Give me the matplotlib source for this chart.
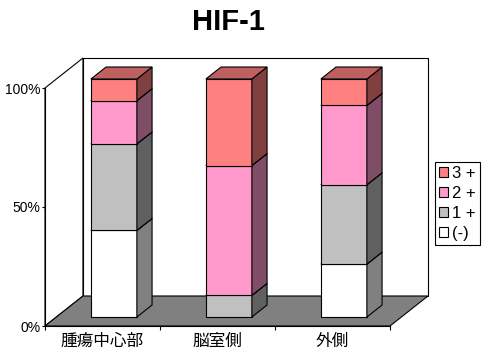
import numpy as np
import matplotlib
matplotlib.use("Agg")
import matplotlib.pyplot as plt
from matplotlib.patches import Polygon, Patch
from matplotlib.colors import to_rgb

# Case counts per region and staining grade
categories = ["腫瘍中心部", "脳室側", "外側"]
series_names = ["(-)", "1 +", "2 +", "3 +"]
neg = [4, 0, 2]
plus1 = [4, 1, 3]
plus2 = [2, 6, 3]
plus3 = [1, 4, 1]
front_colors = ["#FFFFFF", "#C0C0C0", "#FF99CC", "#FF8080"]
yticks = [0, 50, 100]
ytick_labels = ["0%", "50%", "100%"]
title = "HIF-1"

counts = np.array([neg, plus1, plus2, plus3], dtype=float)
percent = counts / counts.sum(axis=0) * 100

W, H = 494, 353
fig = plt.figure(figsize=(W / 100, H / 100), dpi=100)
ax = fig.add_axes([45 / W, (H - 326) / H, 345 / W, 238 / H])
ax.set_xlim(0, 3)
ax.set_ylim(0, 100)

# oblique depth vector (full depth of the box) in data units
ddx, ddy = 0.33, 12.6
bar_front, bar_depth, bar_width = 0.3, 0.4, 0.4
edge = dict(edgecolor="black", linewidth=0.8, clip_on=False)


def shade(color, f):
    r, g, b = to_rgb(color)
    return (r * f, g * f, b * f)


def poly(pts, fc, z):
    ax.add_patch(Polygon(pts, closed=True, facecolor=fc, zorder=z, **edge))


# back wall, left wall and floor
poly([(ddx, ddy), (3 + ddx, ddy), (3 + ddx, 100 + ddy), (ddx, 100 + ddy)], "white", 0.1)
poly([(0, 0), (0, 100), (ddx, 100 + ddy), (ddx, ddy)], "white", 0.2)
poly([(0, 0), (3, 0), (3 + ddx, ddy), (ddx, ddy)], "#808080", 0.3)

# stacked 3-D columns
ox, oy = bar_front * ddx, bar_front * ddy
sx, sy = bar_depth * ddx, bar_depth * ddy
for i in range(len(categories)):
    x0 = i + 0.5 - bar_width / 2 + ox
    x1 = x0 + bar_width
    bottom = 0.0
    for k in range(len(series_names)):
        v = percent[k, i]
        if v <= 0:
            continue
        b, t = bottom + oy, bottom + v + oy
        fc = front_colors[k]
        z = 1 + i * 0.1 + k * 0.01
        ax.bar(x0, v, width=bar_width, bottom=b, align="edge",
               color=fc, zorder=z, **edge)
        poly([(x1, b), (x1 + sx, b + sy), (x1 + sx, t + sy), (x1, t)], shade(fc, 0.5), z)
        poly([(x0, t), (x1, t), (x1 + sx, t + sy), (x0 + sx, t + sy)], shade(fc, 0.75), z)
        bottom += v

for s in ["top", "right"]:
    ax.spines[s].set_visible(False)
for s in ["left", "bottom"]:
    ax.spines[s].set_linewidth(0.8)
    ax.spines[s].set_zorder(5)

ax.set_yticks(yticks, ytick_labels)
ax.tick_params(axis="y", length=2.5, width=0.8, pad=1, labelsize=10)
for lab in ax.get_yticklabels():
    lab.set_fontfamily("Liberation Sans")
ax.set_xticks([0.5, 1.5, 2.5], categories)
ax.set_xticks([0, 1, 2, 3], minor=True)
ax.tick_params(axis="x", which="major", length=0, pad=5, labelsize=12)
ax.tick_params(axis="x", which="minor", length=3, width=0.8)
for lab in ax.get_xticklabels():
    lab.set_fontfamily(["Noto Sans CJK JP", "DejaVu Sans"])

fig.text(228 / W, 1 - 21.5 / H, title, ha="center", va="center",
         fontsize=21, fontweight="bold", family="Liberation Sans")

handles = [Patch(facecolor=front_colors[k], edgecolor="black", linewidth=0.8)
           for k in range(len(series_names))][::-1]
leg = ax.legend(handles, series_names[::-1], loc="upper left",
                bbox_to_anchor=(435 / W, 1 - 161.7 / H),
                bbox_transform=fig.transFigure, borderaxespad=0,
                fancybox=False, framealpha=1, edgecolor="black",
                prop={"family": "Liberation Sans", "size": 12},
                handlelength=0.55, handleheight=0.55, handletextpad=0.2,
                labelspacing=0.3, borderpad=0.25)
leg.get_frame().set_linewidth(0.8)
leg.set_zorder(10)

fig.savefig("out.png", dpi=100)
